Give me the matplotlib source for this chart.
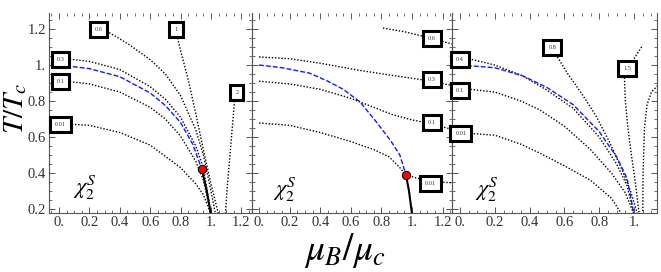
import matplotlib.pyplot as plt
import numpy as np
from matplotlib.ticker import MultipleLocator, FuncFormatter

plt.rcParams['mathtext.fontset'] = 'stix'
plt.rcParams['font.family'] = ['Liberation Serif', 'DejaVu Serif']

# ---- panel 1 (mu_B/mu_c , T/T_c) ----
p1_001_x = [0, 0.2, 0.4, 0.6, 0.8, 0.9, 0.95, 1.0]
p1_001_t = [0.675, 0.665, 0.625, 0.555, 0.43, 0.34, 0.28, 0.17]
p1_01_x = [0.05, 0.2, 0.4, 0.6, 0.7, 0.8, 0.9, 0.95, 1.0]
p1_01_t = [0.91, 0.895, 0.85, 0.765, 0.70, 0.605, 0.465, 0.36, 0.17]
p1_03_x = [0.05, 0.2, 0.4, 0.6, 0.7, 0.8, 0.9, 0.95, 1.0]
p1_03_t = [1.035, 1.02, 0.975, 0.88, 0.81, 0.71, 0.55, 0.43, 0.17]
p1_06_x = [0.33, 0.45, 0.6, 0.7, 0.8, 0.9, 0.95, 1.0, 1.03]
p1_06_t = [1.18, 1.12, 1.03, 0.95, 0.83, 0.64, 0.5, 0.3, 0.17]
p1_1_x = [0.78, 0.8, 0.85, 0.9, 0.95, 1.0, 1.05]
p1_1_t = [1.15, 1.08, 0.92, 0.73, 0.53, 0.34, 0.17]
p1_2_x = [1.155, 1.135, 1.12, 1.105, 1.095]
p1_2_t = [0.8, 0.6, 0.45, 0.3, 0.17]
p1_blue_x = [0, 0.2, 0.4, 0.6, 0.7, 0.8, 0.88, 0.94]
p1_blue_t = [1.0, 0.98, 0.935, 0.845, 0.775, 0.68, 0.56, 0.42]
p1_solid_x = [0.94, 0.97, 1.0]
p1_solid_t = [0.42, 0.31, 0.17]
p1_dot = (0.94, 0.42)
p1_labels = ["0.01", "0.1", "0.3", "0.6", "1", "2"]
p1_label_x = [0.01, 0.01, 0.01, 0.26, 0.77, 1.17]
p1_label_t = [0.667, 0.911, 1.033, 1.2, 1.2, 0.845]

# ---- panel 2 ----
p2_001_x = [0, 0.2, 0.4, 0.6, 0.75, 0.85, 0.92, 0.96, 1.02, 1.1, 1.27]
p2_001_t = [0.678, 0.665, 0.625, 0.575, 0.53, 0.49, 0.43, 0.39, 0.375, 0.355, 0.345]
p2_01_x = [0, 0.2, 0.4, 0.6, 0.75, 0.87, 1.0, 1.12, 1.27]
p2_01_t = [0.91, 0.895, 0.865, 0.815, 0.765, 0.725, 0.695, 0.675, 0.64]
p2_03_x = [0, 0.2, 0.4, 0.66, 0.85, 1.05, 1.12, 1.27]
p2_03_t = [1.045, 1.035, 1.01, 0.97, 0.945, 0.92, 0.91, 0.885]
p2_06_x = [0.81, 0.95, 1.12, 1.27]
p2_06_t = [1.205, 1.185, 1.15, 1.115]
p2_blue_x = [0, 0.15, 0.33, 0.45, 0.55, 0.66, 0.77, 0.86, 0.92, 0.96]
p2_blue_t = [1.0, 0.985, 0.955, 0.91, 0.865, 0.795, 0.68, 0.58, 0.5, 0.39]
p2_solid_x = [0.96, 0.98, 1.0]
p2_solid_t = [0.39, 0.3, 0.17]
p2_dot = (0.96, 0.39)
p2_labels = ["0.01", "0.1", "0.3", "0.6"]
p2_label_x = [1.12, 1.13, 1.13, 1.13]
p2_label_t = [0.344, 0.678, 0.917, 1.15]

# ---- panel 3 ----
p3_001_x = [0.06, 0.2, 0.35, 0.46, 0.6, 0.75, 0.87, 0.93]
p3_001_t = [0.62, 0.61, 0.56, 0.51, 0.44, 0.36, 0.26, 0.17]
p3_01_x = [0.06, 0.2, 0.35, 0.46, 0.6, 0.75, 0.87, 0.95, 1.0]
p3_01_t = [0.865, 0.85, 0.8, 0.75, 0.66, 0.53, 0.4, 0.29, 0.17]
p3_04_x = [0.05, 0.2, 0.36, 0.5, 0.65, 0.8, 0.9, 0.96, 1.0]
p3_04_t = [1.035, 1.0, 0.94, 0.86, 0.76, 0.6, 0.45, 0.33, 0.17]
p3_08_x = [0.55, 0.62, 0.7, 0.78, 0.86, 0.93, 0.98, 1.02]
p3_08_t = [1.06, 0.95, 0.84, 0.72, 0.57, 0.42, 0.3, 0.17]
p3_15a_x = [0.99, 1.02, 1.05]
p3_15a_t = [1.02, 1.065, 1.11]
p3_15b_x = [0.945, 0.95, 0.965, 0.985, 1.01, 1.03]
p3_15b_t = [0.93, 0.8, 0.65, 0.5, 0.33, 0.17]
p3_r_x = [1.05, 1.052, 1.06, 1.075, 1.1, 1.15]
p3_r_t = [0.17, 0.4, 0.65, 0.78, 0.85, 0.9]
p3_blue_x = [0, 0.2, 0.36, 0.5, 0.65, 0.8, 0.9, 0.96, 1.0]
p3_blue_t = [1.0, 0.985, 0.94, 0.875, 0.78, 0.63, 0.49, 0.37, 0.17]
p3_labels = ["0.01", "0.1", "0.4", "0.8", "1.5"]
p3_label_x = [0.005, 0.0, 0.0, 0.53, 0.96]
p3_label_t = [0.622, 0.861, 1.033, 1.1, 0.978]

dot_style = dict(color='black', lw=1.0, ls=(0, (1, 1.3)))
blue_style = dict(color='#1a1aee', lw=1.0, ls=(0, (3.5, 1.5)))


def fmt(v, pos):
    if abs(v - round(v)) < 1e-6:
        return "%d." % round(v)
    return "%.1f" % v


def setup(ax, xlim, ylabels):
    ax.set_xlim(xlim)
    ax.set_ylim(0.178, 1.289)
    ax.xaxis.set_major_locator(MultipleLocator(0.2))
    ax.xaxis.set_minor_locator(MultipleLocator(0.05))
    ax.yaxis.set_major_locator(MultipleLocator(0.2))
    ax.yaxis.set_minor_locator(MultipleLocator(0.05))
    ax.xaxis.set_major_formatter(FuncFormatter(fmt))
    ax.yaxis.set_major_formatter(FuncFormatter(fmt))
    ax.tick_params(which='both', direction='in', top=True, right=True,
                   color='#555555', labelcolor='#333333', labelsize=10.5, pad=2)
    ax.tick_params(which='major', length=4.5, width=0.7)
    ax.tick_params(which='minor', length=2.5, width=0.6)
    ax.tick_params(labelleft=ylabels)
    for s in ax.spines.values():
        s.set_color('#555555')
        s.set_linewidth(0.8)
    ax.spines['top'].set_visible(False)


def boxes(ax, labels, xs, ts):
    for lab, x, t in zip(labels, xs, ts):
        ax.text(x, t, lab, fontsize=4.5, ha='center', va='center', color='#333333',
                clip_on=False, zorder=10,
                bbox=dict(boxstyle='square,pad=0.8', fc='white', ec='black', lw=2.2))


fig = plt.figure(figsize=(6.61, 2.72), dpi=100)
ax1 = fig.add_axes([49 / 661, 59 / 272, 203 / 661, 200 / 272])
ax2 = fig.add_axes([252 / 661, 59 / 272, 200 / 661, 200 / 272])
ax3 = fig.add_axes([452 / 661, 59 / 272, 205 / 661, 200 / 272])
for a in (ax1, ax2, ax3):
    a.patch.set_alpha(0)

setup(ax1, (-0.066, 1.27), True)
setup(ax2, (-0.046, 1.261), False)
setup(ax3, (-0.046, 1.132), False)

# panel 1
for xs, ts in [(p1_001_x, p1_001_t), (p1_01_x, p1_01_t), (p1_03_x, p1_03_t),
               (p1_06_x, p1_06_t), (p1_1_x, p1_1_t), (p1_2_x, p1_2_t)]:
    ax1.plot(xs, ts, **dot_style)
ax1.plot(p1_blue_x, p1_blue_t, **blue_style)
ax1.plot(p1_solid_x, p1_solid_t, color='black', lw=1.5)
ax1.plot(*p1_dot, 'o', ms=6, mfc='red', mec='black', mew=0.7, zorder=5)
boxes(ax1, p1_labels, p1_label_x, p1_label_t)

# panel 2
for xs, ts in [(p2_001_x, p2_001_t), (p2_01_x, p2_01_t), (p2_03_x, p2_03_t),
               (p2_06_x, p2_06_t)]:
    ax2.plot(xs, ts, **dot_style)
ax2.plot(p2_blue_x, p2_blue_t, **blue_style)
ax2.plot(p2_solid_x, p2_solid_t, color='black', lw=1.5)
ax2.plot(*p2_dot, 'o', ms=6, mfc='red', mec='black', mew=0.7, zorder=5)
boxes(ax2, p2_labels, p2_label_x, p2_label_t)

# panel 3
for xs, ts in [(p3_001_x, p3_001_t), (p3_01_x, p3_01_t), (p3_04_x, p3_04_t),
               (p3_08_x, p3_08_t), (p3_15a_x, p3_15a_t), (p3_15b_x, p3_15b_t),
               (p3_r_x, p3_r_t)]:
    ax3.plot(xs, ts, **dot_style)
ax3.plot(p3_blue_x, p3_blue_t, **blue_style)
boxes(ax3, p3_labels, p3_label_x, p3_label_t)

ax1.text(0.17, 0.317, r'$\chi_2^S$', fontsize=16, ha='center', va='center')
ax2.text(0.17, 0.306, r'$\chi_2^S$', fontsize=16, ha='center', va='center')
ax3.text(0.155, 0.306, r'$\chi_2^S$', fontsize=16, ha='center', va='center')

fig.text(0.024, 0.6, r'$T/T_c$', rotation=90, fontsize=21, ha='center', va='center')
fig.text(0.522, 0.08, r'$\mu_B/\mu_c$', fontsize=27, ha='center', va='center')

plt.savefig("out.png", dpi=100)
